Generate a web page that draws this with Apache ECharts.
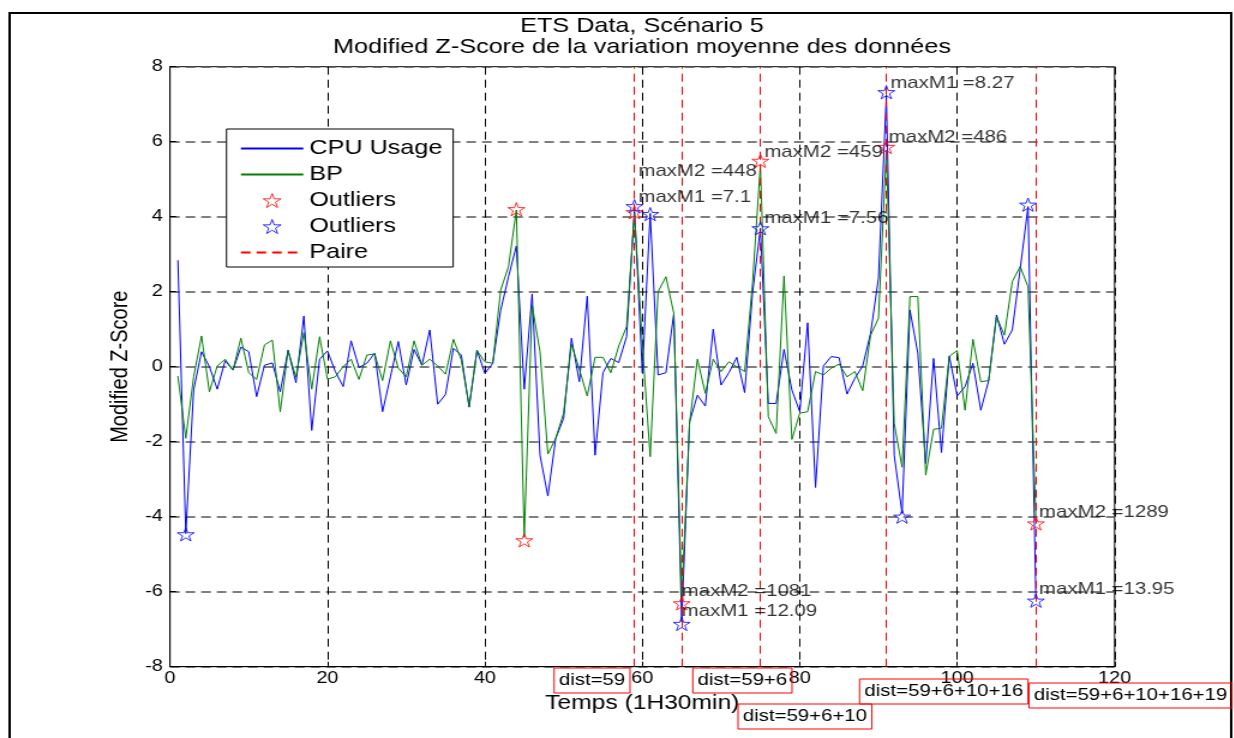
<!DOCTYPE html>
<html>
<head>
<meta charset="utf-8">
<script src="https://cdn.jsdelivr.net/npm/echarts@6/dist/echarts.min.js"></script>
<style>
html, body { margin: 0; padding: 0; background: #fff; overflow: hidden; }
/* the original figure is stretched sideways, so the chart is drawn narrower and widened */
#chart { width: 1029px; height: 738px; transform: scaleX(1.2); transform-origin: 0 0; }
</style>
</head>
<body>
<div id="chart"></div>
<script>
// values, x = 1..110
var cpuUsage = [2.84, -4.45, -0.62, 0.40, 0.00, -0.60, 0.16, -0.09, 0.52, 0.40,
  -0.80, 0.04, 0.10, -0.67, 0.44, -0.43, 1.35, -1.70, 0.20, 0.42,
  -0.13, -0.53, 0.69, -0.02, 0.09, 0.36, -1.20, -0.27, 0.67, -0.49,
  0.46, 0.04, 0.98, -1.00, -0.74, 0.49, 0.31, -1.08, 0.44, -0.18,
  0.09, 1.50, 2.40, 3.22, -0.60, 1.94, -2.36, -3.45, -1.91, -1.38,
  0.76, -0.40, 1.88, -2.36, -0.16, 0.22, 0.11, 0.80, 4.20, -0.16,
  4.09, -0.22, -0.16, 1.42, -6.80, -1.47, -0.76, -1.05, 1.00, -0.49,
  -0.16, 0.25, -0.69, 1.96, 3.69, -0.98, -0.98, 0.46, -0.62, -1.20,
  1.17, -3.22, 0.02, 0.27, 0.24, -0.73, -0.31, 0.02, 0.89, 2.36,
  7.24, -2.36, -3.91, 1.51, 0.36, -2.58, 0.22, -2.29, 0.28, -0.78,
  -0.53, 0.09, -1.16, -0.37, 1.38, 0.60, 0.98, 2.60, 4.27, -6.20];

var bp = [-0.25, -1.91, -0.27, 0.82, -0.67, 0.02, 0.20, -0.09, 0.76, -0.16,
  -0.34, 0.58, 0.71, -1.20, 0.43, -0.28, 0.91, -0.60, 0.80, -0.33,
  -0.27, 0.00, 0.20, -0.34, 0.31, 0.34, -0.37, 0.69, -0.04, -0.27,
  0.69, 0.04, 0.20, 0.02, -0.20, 0.73, 0.18, -1.05, 0.43, 0.13,
  0.09, 2.04, 2.67, 4.18, -4.55, 1.64, 0.40, -2.33, -1.91, -1.24,
  0.60, -0.07, -0.78, 0.25, 0.25, -0.16, 0.55, 1.07, 4.10, 0.60,
  -2.40, 2.00, 2.40, 1.42, -6.20, -1.51, 0.20, -0.71, 0.20, -0.13,
  0.13, 0.00, -0.13, 2.22, 5.38, -1.33, -1.78, 2.42, -1.94, -1.24,
  -1.20, -0.13, -0.22, -0.04, 0.07, -0.27, -0.13, -0.64, 0.84, 1.29,
  5.78, -1.51, -2.68, 1.87, 1.87, -2.89, -1.67, -1.64, 0.28, 0.43,
  -1.16, 0.73, -0.40, -0.37, 1.33, 0.84, 2.27, 2.67, 2.13, -4.09];

var outliersBP = [[44, 4.2], [45, -4.63], [59, 4.12], [65, -6.31], [75, 5.49], [91, 5.86], [110, -4.18]];
var outliersCPU = [[2, -4.47], [59, 4.28], [61, 4.07], [65, -6.86], [75, 3.69], [91, 7.32], [93, -4.0], [109, 4.32], [110, -6.24]];
var paireX = [59, 65, 75, 91, 110];

var maxLabels = [
  [91.5, 7.55, 'maxM1 =8.27'],
  [91.3, 6.13, 'maxM2 =486'],
  [75.5, 5.73, 'maxM2 =459'],
  [59.5, 5.22, 'maxM2 =448'],
  [59.5, 4.52, 'maxM1 =7.1'],
  [75.5, 3.96, 'maxM1 =7.56'],
  [65.0, -5.98, 'maxM2 =1081'],
  [65.0, -6.51, 'maxM1 =12.09'],
  [110.4, -3.87, 'maxM2 =1289'],
  [110.4, -5.94, 'maxM1 =13.95']
];

var distTexts = ['dist=59', 'dist=59+6', 'dist=59+6+10', 'dist=59+6+10+16', 'dist=59+6+10+16+19'];
var distPos = [[461.7, 668], [577.3, 668], [615, 704], [716.3, 679], [857.5, 683]];

var FONT = '"Liberation Sans", Arial, sans-serif';
var STAR = 'path://M50,0L61.23,34.55L97.55,34.55L68.17,55.9L79.39,90.45L50,69.1L20.61,90.45L31.83,55.9L2.45,34.55L38.77,34.55Z';

function pairs(arr) {
  return arr.map(function (v, i) { return [i + 1, v]; });
}

var graphics = [
  { type: 'rect', shape: { x: 8, y: 13, width: 1018, height: 800 }, style: { fill: 'none', stroke: '#000', lineWidth: 2 }, z: 0 },
  { type: 'text', style: { x: 535, y: 25.8, text: 'ETS Data, Scénario 5', font: '21px ' + FONT, fill: '#000', align: 'center', verticalAlign: 'middle' } },
  { type: 'text', style: { x: 535, y: 47.5, text: 'Modified Z-Score de la variation moyenne des données', font: '21px ' + FONT, fill: '#000', align: 'center', verticalAlign: 'middle' } }
];
distTexts.forEach(function (t, i) {
  graphics.push({
    type: 'text', z: 100,
    style: {
      x: distPos[i][0], y: distPos[i][1], text: t, font: '17px ' + FONT, fill: '#000',
      align: 'left', verticalAlign: 'top',
      borderColor: '#ff0000', borderWidth: 1, padding: [4, 4, 4, 4]
    }
  });
});

// line entries of the legend: plain line, no marker in the middle
var noMarker = { color: 'rgba(0,0,0,0)', borderWidth: 0, opacity: 0 };

var chart = echarts.init(document.getElementById('chart'));
var option = {
  animation: false,
  backgroundColor: '#fff',
  textStyle: { fontFamily: FONT },
  grid: {
    left: 141.67, right: 100.17, top: 66.7, bottom: 71.3,
    show: true, borderColor: '#000', borderWidth: 1
  },
  legend: {
    orient: 'vertical',
    left: 188.75, top: 129,
    padding: [9, 9, 4, 11],
    itemWidth: 52, itemHeight: 14, itemGap: 5,
    backgroundColor: '#fff', borderColor: '#000', borderWidth: 1,
    textStyle: { fontSize: 21, color: '#000', lineHeight: 21, fontFamily: FONT },
    itemStyle: { borderWidth: 1 },
    data: [
      { name: 'CPU Usage', itemStyle: noMarker },
      { name: 'BP', itemStyle: noMarker },
      'Outliers BP',
      'Outliers CPU',
      { name: 'Paire', itemStyle: noMarker }
    ],
    formatter: function (name) { return name.indexOf('Outliers') === 0 ? 'Outliers' : name; }
  },
  xAxis: {
    type: 'value', min: 0, max: 120, interval: 20,
    name: 'Temps (1H30min)', nameLocation: 'middle', nameGap: 26,
    nameTextStyle: { fontSize: 20.5, color: '#000', fontFamily: FONT },
    axisLine: { onZero: false, lineStyle: { color: '#000', width: 1 } },
    axisTick: { inside: true, length: 5, lineStyle: { color: '#000' } },
    axisLabel: { fontSize: 16.5, color: '#000', margin: 3, fontFamily: FONT },
    splitLine: { show: true, lineStyle: { color: '#000', width: 1, type: [8, 5] } }
  },
  yAxis: {
    type: 'value', min: -8, max: 8, interval: 2,
    name: 'Modified Z-Score', nameLocation: 'middle', nameRotate: 90, nameGap: 31,
    nameTextStyle: { fontSize: 20, color: '#000', fontFamily: FONT },
    axisLine: { onZero: false, lineStyle: { color: '#000', width: 1 } },
    axisTick: { inside: true, length: 5, lineStyle: { color: '#000' } },
    axisLabel: { fontSize: 16.5, color: '#000', margin: 6, fontFamily: FONT },
    splitLine: { show: true, lineStyle: { color: '#555', width: 1.5, type: [8, 5] } }
  },
  series: [
    {
      name: 'CPU Usage', type: 'line', data: pairs(cpuUsage),
      symbol: 'none', showSymbol: false,
      lineStyle: { color: '#0000ff', width: 1 }, itemStyle: { color: '#0000ff' }, z: 3
    },
    {
      name: 'BP', type: 'line', data: pairs(bp),
      symbol: 'none', showSymbol: false,
      lineStyle: { color: '#008000', width: 1 }, itemStyle: { color: '#008000' }, z: 3
    },
    {
      name: 'Outliers BP', type: 'scatter', data: outliersBP,
      symbol: STAR, symbolSize: 14, symbolKeepAspect: true,
      itemStyle: { color: 'none', borderColor: '#ff0000', borderWidth: 1 }, z: 5
    },
    {
      name: 'Outliers CPU', type: 'scatter', data: outliersCPU,
      symbol: STAR, symbolSize: 14, symbolKeepAspect: true,
      itemStyle: { color: 'none', borderColor: '#0000ff', borderWidth: 1 }, z: 5
    },
    {
      name: 'Paire', type: 'line', data: [],
      symbol: 'none',
      lineStyle: { color: '#ff0000', width: 1, type: [8, 5] }, itemStyle: { color: '#ff0000' },
      markLine: {
        silent: true, symbol: ['none', 'none'], label: { show: false },
        lineStyle: { color: '#ff0000', width: 1, type: [8, 5] },
        data: paireX.map(function (x) { return { xAxis: x }; })
      },
      z: 4
    },
    {
      name: 'labels', type: 'scatter', silent: true,
      data: maxLabels.map(function (d) { return { value: [d[0], d[1]], name: d[2] }; }),
      symbolSize: 0,
      label: { show: true, position: 'right', distance: 0, formatter: '{b}', fontSize: 17, color: '#000', fontFamily: FONT },
      z: 6
    }
  ],
  graphic: graphics
};
chart.setOption(option);
</script>
</body>
</html>
